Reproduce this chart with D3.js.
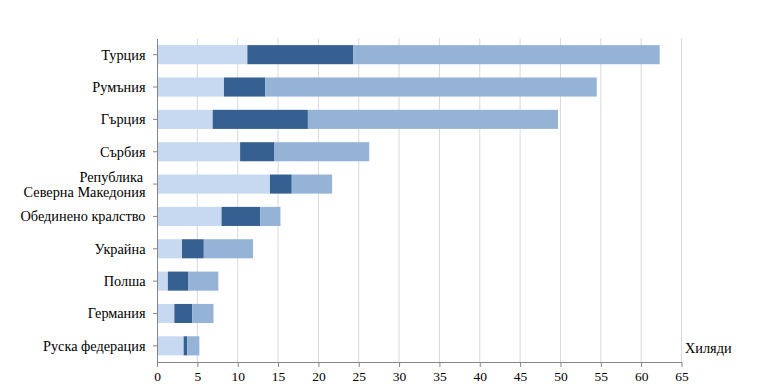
<!DOCTYPE html>
<html><head><meta charset="utf-8">
<script src="https://cdn.jsdelivr.net/npm/d3@7"></script>
<style>
body{margin:0;background:#fff;}
svg{display:block;}
text{font-family:"Liberation Serif","Times New Roman",serif;fill:#000;}
</style></head>
<body><svg id="chart" width="768" height="391"></svg>
<script>
const categories = ["Турция","Румъния","Гърция","Сърбия","Република |Северна Македония","Обединено кралство","Украйна","Полша","Германия","Руска федерация"];
const series1 = [11.2, 8.3, 6.9, 10.3, 14.0, 8.0, 3.1, 1.35, 2.15, 3.3];
const series2 = [13.1, 5.1, 11.8, 4.2, 2.7, 4.8, 2.7, 2.55, 2.2, 0.45];
const series3 = [38.0, 41.1, 31.0, 11.8, 5.0, 2.5, 6.1, 3.7, 2.65, 1.5];
const xTicks = [0,5,10,15,20,25,30,35,40,45,50,55,60,65];
const seriesColors = ["#c6d9f1","#376092","#95b3d7"];
const unitLabel = "Хиляди";

(function(){
const svg = d3.select("#chart");
const pL = 157, pR = 681.5, pT = 38.5, pB = 362;
const x = d3.scaleLinear().domain([0,65]).range([pL,pR]);
const y = d3.scaleBand().domain(categories).range([pT,pB]).paddingInner(0.41).paddingOuter(0.205);

svg.append("g").selectAll("line").data(xTicks.filter(d=>d>0)).join("line")
  .attr("x1",d=>x(d)).attr("x2",d=>x(d)).attr("y1",pT).attr("y2",pB)
  .attr("stroke","#d9d9d9").attr("stroke-width",1);

const data = categories.map((c,i)=>({cat:c,s1:series1[i],s2:series2[i],s3:series3[i]}));
const stack = d3.stack().keys(["s1","s2","s3"])(data);
svg.append("g").selectAll("g").data(stack).join("g")
  .attr("fill",(d,i)=>seriesColors[i])
  .selectAll("rect").data(d=>d).join("rect")
  .attr("x",d=>x(d[0])).attr("width",d=>x(d[1])-x(d[0]))
  .attr("y",d=>y(d.data.cat)).attr("height",y.bandwidth());

const xAxis = svg.append("g").attr("transform",`translate(0,${pB})`)
  .call(d3.axisBottom(x).tickValues(xTicks).tickSize(5).tickSizeOuter(0));
xAxis.attr("font-family",null).attr("font-size",null);
xAxis.select(".domain").attr("stroke","#868686");
xAxis.selectAll(".tick line").attr("stroke","#868686");
xAxis.selectAll(".tick text").style("font-size","13.5px").attr("dy","0.8em").attr("fill","#000");

const yAxis = svg.append("g").attr("transform",`translate(${pL},0)`)
  .call(d3.axisLeft(y).tickSize(4).tickSizeOuter(0).tickFormat(""));
yAxis.select(".domain").attr("stroke","#868686");
yAxis.selectAll(".tick line").attr("stroke","#868686");

const lab = svg.append("g");
categories.forEach(c=>{
  const parts = c.split("|");
  const cy = y(c)+y.bandwidth()/2;
  const n = parts.length;
  parts.forEach((p,j)=>{
    lab.append("text").attr("x", j===0 && n>1 ? 143 : 145.5)
      .attr("y", cy + (j-(n-1)/2)*15).attr("dy","0.35em")
      .attr("text-anchor","end").style("font-size","14.3px").text(p.trim());
  });
});

svg.append("text").attr("x",685).attr("y",348).attr("dy","0.35em")
  .style("font-size","14.3px").text(unitLabel);
})();
</script></body></html>
